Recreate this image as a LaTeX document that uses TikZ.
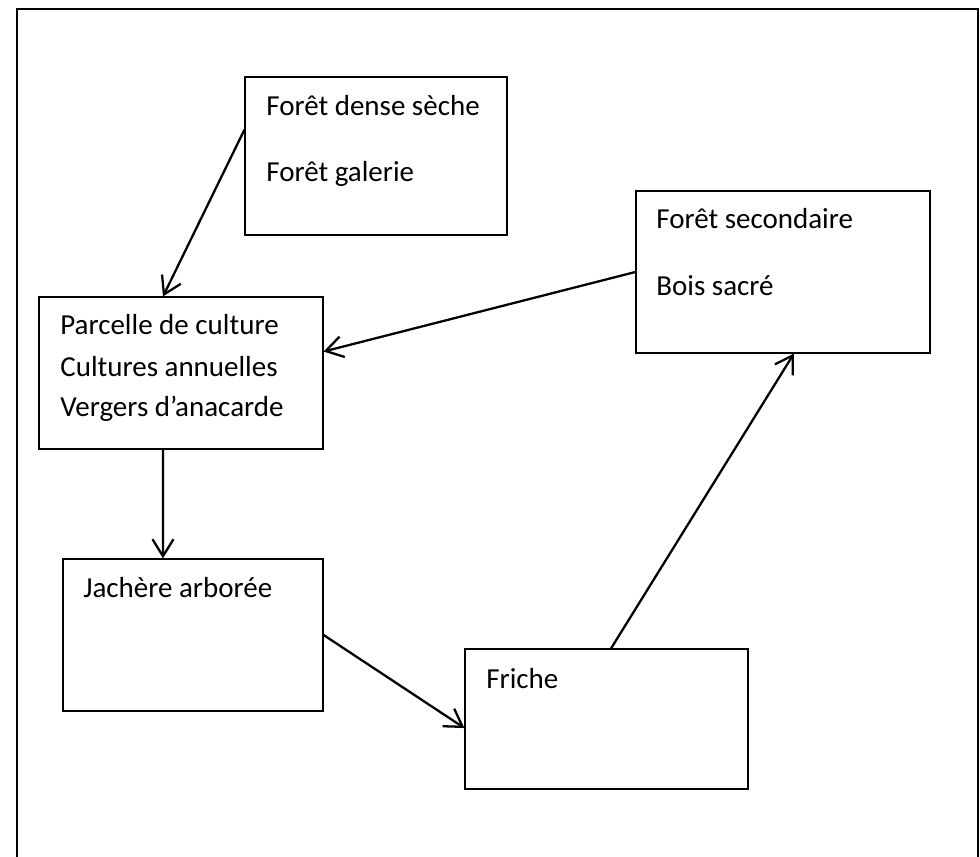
\documentclass[tikz,border=0pt]{standalone}
\usepackage{fontspec}
\setmainfont{Carlito}
\usepackage{tikz}
\usetikzlibrary{arrows.meta,calc}

\begin{document}
\begin{tikzpicture}[
  x=0.02cm, y=-0.02cm,
  font=\fontsize{16.5}{23.5}\selectfont,
  box/.style={draw, rectangle, line width=0.7pt, inner sep=0pt},
  txt/.style={anchor=base west, inner sep=0pt},
  >={Straight Barb[length=3.4mm, width=4.2mm, line width=1.3pt]},
  arrline/.style={->, line width=1.3pt},
]
\useasboundingbox (0,0) rectangle (980,857);

% ============ outer frame (open at the bottom) ============
\draw[line width=1pt] (17,880) -- (17,9) -- (978,9) -- (978,880);

% ============ boxes ============
\node[box, minimum width=5.24cm, minimum height=3.16cm] (fds) at (376,156) {};
\node[txt] (fdsA) at (266,116) {Forêt dense sèche};
\node[txt] (fdsB) at (266,182) {Forêt galerie};

\node[box, minimum width=5.88cm, minimum height=3.24cm] (fsec) at (783,272) {};
\node[txt] (fsecA) at (656,229) {Forêt secondaire};
\node[txt] (fsecB) at (656,296) {Bois sacré};

\node[box, minimum width=5.68cm, minimum height=3.04cm] (parc) at (181,373) {};
\node[txt] (parcA) at (60,335) {Parcelle de culture};
\node[txt] (parcB) at (60,377) {Cultures annuelles};
\node[txt] (parcC) at (60,417) {Vergers d’anacarde};

\node[box, minimum width=5.20cm, minimum height=3.04cm] (jach) at (193,635) {};
\node[txt] (jachA) at (83,598) {Jachère arborée};

\node[box, minimum width=5.66cm, minimum height=2.80cm] (fri) at (606.5,719) {};
\node[txt] (friA) at (486,688) {Friche};

% ===================== ARROWS =====================

% dense forest -> plot
\draw[arrline] ($(fds.north west)!0.335!(fds.south west)$) -- ($(parc.north west)!0.437!(parc.north east)$);
% secondary forest -> plot
\draw[arrline] (fsec.west) -- ($(parc.north east)!0.36!(parc.south east)$);
% plot -> fallow
\draw[arrline] ($(parc.south west)!0.437!(parc.south east)$) -- ($(jach.north west)!0.385!(jach.north east)$);
% fallow -> friche
\draw[arrline] (jach.east) -- ($(fri.north west)!0.564!(fri.south west)$);
% friche -> secondary forest
\draw[arrline] ($(fri.north west)!0.516!(fri.north east)$) -- ($(fsec.south west)!0.537!(fsec.south east)$);

\end{tikzpicture}
\end{document}
